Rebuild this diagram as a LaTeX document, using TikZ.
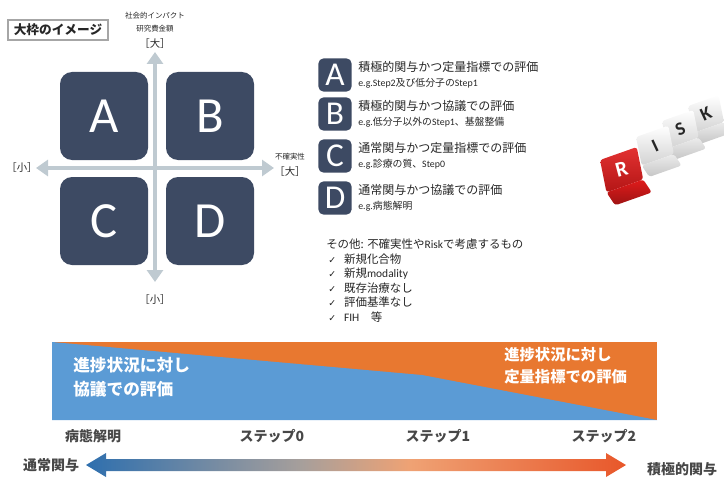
\documentclass[tikz,border=0pt]{standalone}
\usepackage{fontspec}
\setmainfont{Noto Sans CJK JP}
\newfontfamily\latinfont{Carlito}
\newfontfamily\symbolfont{DejaVu Sans}
\usetikzlibrary{arrows.meta,positioning,calc}
\definecolor{slate}{HTML}{3D4A63}
\definecolor{axisgrey}{HTML}{BFCAD1}
\definecolor{bandblue}{HTML}{5B9BD5}
\definecolor{bandorange}{HTML}{E87830}
\definecolor{ink}{HTML}{262626}
\definecolor{dicered}{HTML}{E01B1B}
\definecolor{fadeA}{HTML}{2E6FAE}
\definecolor{fadeB}{HTML}{A79F9B}
\definecolor{fadeC}{HTML}{EFA274}
\definecolor{fadeD}{HTML}{E8572A}
\pgfdeclarehorizontalshading{involvefade}{100bp}{color(0bp)=(fadeA); color(25bp)=(fadeA); color(45bp)=(fadeB); color(55bp)=(fadeC); color(75bp)=(fadeD); color(100bp)=(fadeD)}
\tikzset{quad/.style={fill=slate,rounded corners=9pt,minimum size=66pt,inner sep=0pt,text=white,font=\latinfont\fontsize{38}{38}\selectfont},
  keybox/.style={fill=slate,rounded corners=4pt,minimum size=25pt,inner sep=0pt,text=white,font=\latinfont\fontsize{25}{25}\selectfont},
  keyhead/.style={anchor=west,inner sep=0pt,text height=7pt,text depth=1pt,text=ink,font=\fontsize{9}{11}\selectfont},
  keyeg/.style={anchor=west,inner sep=0pt,text height=6pt,text depth=1pt,text=ink,font=\fontsize{7.4}{9}\selectfont},
  axis/.style={draw=axisgrey,line width=3.6pt,{Triangle[width=12pt,length=9pt]}-{Triangle[width=12pt,length=9pt]}},
  tinylab/.style={inner sep=0pt,text=ink,font=\fontsize{5.6}{6.5}\selectfont},
  bracket/.style={inner sep=0pt,text=ink,font=\fontsize{7.8}{8}\selectfont},
  stage/.style={inner sep=0pt,text=ink!85,font=\bfseries\fontsize{10.5}{12}\selectfont},
  bandtext/.style={anchor=north west,align=left,inner sep=0pt,text=white,font=\bfseries\fontsize{12.5}{18}\selectfont}}

\begin{document}
\begin{tikzpicture}[x=0.75pt,y=-0.75pt]
\useasboundingbox (0,0) rectangle (724,478);
% matrix of four quadrants
\node[draw=gray!70,line width=0.8pt,minimum width=75pt,minimum height=15pt,inner sep=0pt,text=ink,font=\bfseries\fontsize{9.5}{11}\selectfont] (title) at (58,30) {大枠のイメージ};
\coordinate (vtop) at (155,52); \coordinate (vbot) at (155,282);
\coordinate (hleft) at (36,168); \coordinate (hright) at (274,168);
\draw[axis] (vbot) -- (vtop);
\draw[axis] (hleft) -- (hright);
\foreach \n/\x/\y in {A/104/116,B/210/116,C/104/221,D/210/221}{\node[quad] (q\n) at (\x,\y) {\n};}
\node[tinylab] (imp) at (155,16) {社会的インパクト};
\node[tinylab] (fund) at (155,29) {研究費金額};
\node[bracket] (big1) at (155,44) {［大］};
\node[bracket] (small1) at (22,168) {［小］};
\node[bracket] (small2) at (155,300) {［小］};
\node[tinylab] (unc) at (290,157) {不確実性};
\node[bracket] (big2) at (290,172) {［大］};
% legend
\foreach \n/\y/\head/\eg in {A/75/積極的関与かつ定量指標での評価/{{\latinfont e.g.Step2}及び低分子の{\latinfont Step1}},
  B/114/積極的関与かつ協議での評価/{{\latinfont e.g.}低分子以外の{\latinfont Step1}、基盤整備},
  C/156/通常関与かつ定量指標での評価/{{\latinfont e.g.}診療の質、{\latinfont Step0}},
  D/198/通常関与かつ協議での評価/{{\latinfont e.g.}病態解明}}{
  \node[keybox] (k\n) at (335,\y) {\n};
  \node[keyhead] (kh\n) at (358,\y-8) {\head};
  \node[keyeg] (ke\n) at (358,\y+8) {\eg};
}
\node[keyhead,font=\fontsize{8.6}{10}\selectfont] (other) at (326,244) {その他: 不確実性や{\latinfont Risk}で考慮するもの};
\foreach \i/\t in {0/新規化合物,1/新規{\latinfont modality},2/既存治療なし,3/評価基準なし,4/{\latinfont FIH}\quad 等}{
  \node[keyhead,font=\fontsize{8.6}{10}\selectfont] (chk\i) at (328,259+14.5*\i) {{\symbolfont\fontsize{7}{8}\selectfont ✓}\hspace{6pt}\t};
}
% dice
\begin{scope}
\clip (585,80) rectangle (724,230);
\foreach \ox/\oy/\s/\lt in {688/106/0.9/K,662/121/0.92/S,636/137/0.95/I}{
  \begin{scope}[shift={(\ox,\oy)},scale=\s]
  \shade[top color=white,bottom color=gray!35,rounded corners=2pt] (0,0) -- (34,-12) -- (40,18) -- (6,30) -- cycle;
  \shade[top color=gray!15,bottom color=gray!45,rounded corners=2pt] (6,30) -- (40,18) -- (48,30) -- (14,42) -- cycle;
  \node[rotate=25,text=black!85,font=\latinfont\bfseries\fontsize{14}{14}\selectfont] (d\lt) at (20,9) {\lt};
  \end{scope}
}
\begin{scope}[shift={(600,160)},scale=1.08]
\shade[top color=dicered!90!white,bottom color=dicered!80!black,rounded corners=2pt] (0,0) -- (34,-12) -- (40,18) -- (6,30) -- cycle;
\shade[top color=dicered,bottom color=dicered!70!black,rounded corners=2pt] (6,30) -- (40,18) -- (48,30) -- (14,42) -- cycle;
\node[rotate=15,text=white,font=\latinfont\bfseries\fontsize{16}{16}\selectfont] (dR) at (20,9) {R};
\end{scope}
\end{scope}
% progress band
\fill[bandorange] (52,342) rectangle (657,420);
\fill[bandblue] (52,342) -- (422,375) -- (657,420) -- (52,420) -- cycle;
\node[bandtext] (lefttxt) at (73,357) {進捗状況に対し\\協議での評価};
\node[bandtext,font=\bfseries\fontsize{11.5}{16.5}\selectfont] (righttxt) at (504,347) {進捗状況に対し\\定量指標での評価};
\node[stage] (s0) at (93,436) {病態解明};
\node[stage] (s1) at (272,436) {ステップ0};
\node[stage] (s2) at (438,436) {ステップ1};
\node[stage] (s3) at (604,436) {ステップ2};
% involvement arrow
\coordinate (ga) at (86,465); \coordinate (gb) at (626,465);
\shade[shading=involvefade] (ga) -- ++(20,-12) -- ++(0,6) -- ($(gb)+(-20,-6)$) -- ++(0,-6) -- (gb) -- ++(-20,12) -- ++(0,-6) -- ($(ga)+(20,6)$) -- ++(0,6) -- cycle;
\node[stage] (normal) at (51,465) {通常関与};
\node[stage] (active) at (682,469) {積極的関与};
\end{tikzpicture}
\end{document}
